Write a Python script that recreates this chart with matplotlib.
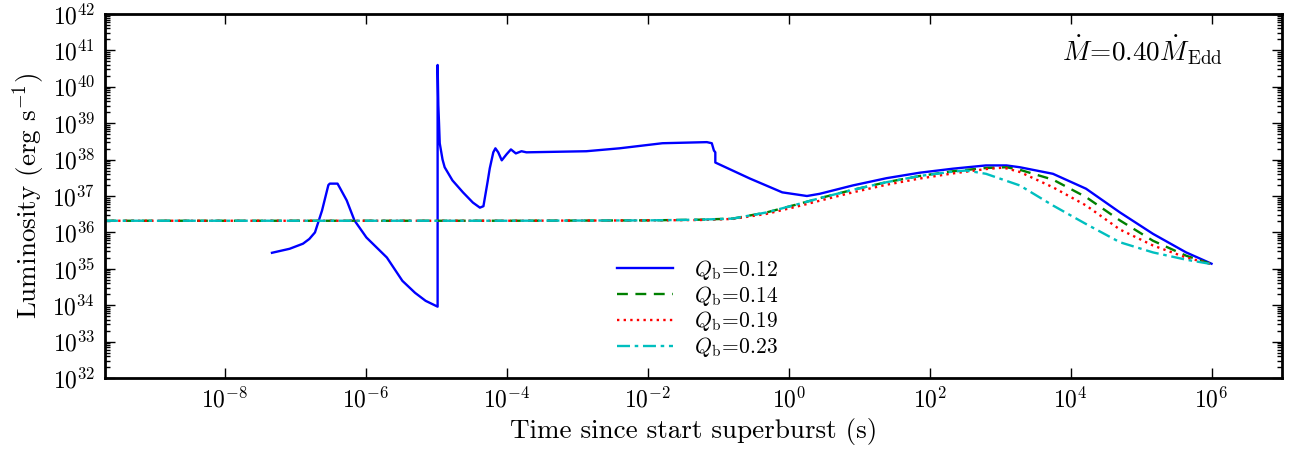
import numpy as np
import matplotlib
matplotlib.use("Agg")
import matplotlib.pyplot as plt
from matplotlib.ticker import FuncFormatter, LogLocator, NullLocator, NullFormatter

plt.rcParams['mathtext.fontset'] = 'cm'
plt.rcParams['font.family'] = 'serif'
plt.rcParams['font.serif'] = ['cmr10']
plt.rcParams['axes.unicode_minus'] = False
plt.rcParams['axes.formatter.use_mathtext'] = True

# log10 of time (s) and log10 of luminosity (erg/s)
labels = [r'$Q_{\rm b}\!=\!0.12$', r'$Q_{\rm b}\!=\!0.14$',
          r'$Q_{\rm b}\!=\!0.19$', r'$Q_{\rm b}\!=\!0.23$']

log_t_012 = [-7.33, -7.08, -6.89, -6.80, -6.72, -6.62, -6.53, -6.51, -6.40, -6.36,
             -6.27, -6.16, -5.99, -5.70, -5.48, -5.30, -5.15, -4.98,
             -4.98, -4.97, -4.96, -4.95, -4.91, -4.88, -4.77, -4.62, -4.48, -4.38,
             -4.33, -4.27, -4.24, -4.19, -4.16, -4.12, -4.07, -4.00, -3.94, -3.87,
             -3.79, -3.72, -2.87, -2.40, -1.79, -1.16, -1.09, -1.06, -1.04, -1.04,
             -0.55, -0.09, 0.26, 0.44, 0.91, 1.39, 1.86, 2.33, 2.80, 3.09, 3.28,
             3.75, 4.22, 4.70, 5.17, 5.64, 6.00]
log_L_012 = [35.44, 35.55, 35.69, 35.82, 36.00, 36.60, 37.30, 37.34, 37.34, 37.20,
             36.88, 36.33, 35.86, 35.31, 34.67, 34.34, 34.12, 33.96,
             40.60, 39.50, 39.00, 38.45, 38.00, 37.79, 37.43, 37.10, 36.82, 36.68,
             36.72, 37.40, 37.76, 38.20, 38.31, 38.20, 37.98, 38.15, 38.28, 38.17,
             38.23, 38.20, 38.23, 38.31, 38.45, 38.48, 38.45, 38.25, 38.20, 37.92,
             37.48, 37.10, 37.00, 37.06, 37.29, 37.49, 37.64, 37.75, 37.84, 37.84, 37.79,
             37.61, 37.20, 36.55, 35.96, 35.45, 35.14]

log_t_014 = [-9.70, -4.00, -2.00, -1.26, -0.79, -0.31, 0.16, 0.44, 0.91, 1.39, 1.86,
             2.33, 2.80, 3.09, 3.28, 3.75, 4.22, 4.70, 5.17, 5.64, 6.00]
log_L_014 = [36.32, 36.32, 36.33, 36.35, 36.38, 36.55, 36.79, 36.94, 37.17, 37.38, 37.55,
             37.68, 37.77, 37.79, 37.72, 37.45, 36.97, 36.33, 35.77, 35.36, 35.13]

log_t_019 = [-9.70, -4.00, -2.00, -1.26, -0.79, -0.31, 0.16, 0.44, 0.91, 1.39, 1.86,
             2.33, 2.80, 3.05, 3.28, 3.75, 4.22, 4.70, 5.17, 5.64, 6.00]
log_L_019 = [36.32, 36.32, 36.33, 36.34, 36.37, 36.51, 36.73, 36.87, 37.10, 37.31, 37.48,
             37.62, 37.74, 37.78, 37.66, 37.24, 36.74, 36.08, 35.64, 35.31, 35.13]

log_t_023 = [-9.70, -4.00, -2.00, -1.26, -0.79, -0.31, 0.16, 0.44, 0.91, 1.39, 1.86,
             2.33, 2.52, 2.80, 3.28, 3.75, 4.22, 4.70, 5.17, 5.64, 6.00]
log_L_023 = [36.32, 36.32, 36.33, 36.35, 36.38, 36.55, 36.79, 36.94, 37.17, 37.38, 37.55,
             37.67, 37.70, 37.61, 37.29, 36.74, 36.23, 35.73, 35.45, 35.25, 35.13]

x_tick_exp = [-8, -6, -4, -2, 0, 2, 4, 6]

fig = plt.figure(figsize=(12.9, 4.62), dpi=100)
ax = fig.add_axes([0.0814, 0.1818, 0.9124, 0.7879])

series = [
    (log_t_012, log_L_012, '#0000ff', '-'),
    (log_t_014, log_L_014, '#008000', (0, (4.6, 3.2))),
    (log_t_019, log_L_019, '#ff0000', (0, (1.0, 1.8))),
    (log_t_023, log_L_023, '#00bfbf', (0, (5.5, 2.0, 1.5, 2.0))),
]
for (lt, lL, c, ls), lab in zip(series, labels):
    ax.plot(np.power(10.0, lt), np.power(10.0, lL), color=c, linestyle=ls,
            lw=1.7, label=lab)

ax.set_xscale('log')
ax.set_yscale('log')
ax.set_xlim(2e-10, 1e7)
ax.set_ylim(1e32, 1e42)

ax.set_xticks([10.0 ** e for e in x_tick_exp])
ax.xaxis.set_minor_locator(NullLocator())
ax.xaxis.set_major_formatter(FuncFormatter(lambda v, p: r'$10^{%d}$' % round(np.log10(v))))
ax.yaxis.set_major_locator(LogLocator(base=10, numticks=20))
ax.yaxis.set_minor_locator(LogLocator(base=10, subs=np.arange(2, 10), numticks=20))
ax.yaxis.set_minor_formatter(NullFormatter())
ax.yaxis.set_major_formatter(FuncFormatter(lambda v, p: r'$10^{%d}$' % round(np.log10(v))))

ax.tick_params(which='both', direction='in', top=True, right=True, labelsize=17)
ax.tick_params(which='major', length=7, width=1, pad=7)
ax.tick_params(which='minor', length=3.5, width=1)
for s in ax.spines.values():
    s.set_linewidth(2)

ax.set_xlabel('Time since start superburst (s)', fontsize=19.5)
ax.set_ylabel(r'Luminosity (erg s$^{-1}$)', fontsize=19.5)

ax.text(0.95, 0.90, r'$\dot{M}\!=\!0.40\dot{M}_{\rm Edd}$', transform=ax.transAxes,
        ha='right', va='center', fontsize=19.6)

ax.legend(loc='upper left', bbox_to_anchor=(0.435, 0.33), frameon=False,
          fontsize=15.5, handlelength=2.6, handletextpad=1.0, labelspacing=0.08,
          borderpad=0, borderaxespad=0)

fig.savefig('out.png', dpi=100)
